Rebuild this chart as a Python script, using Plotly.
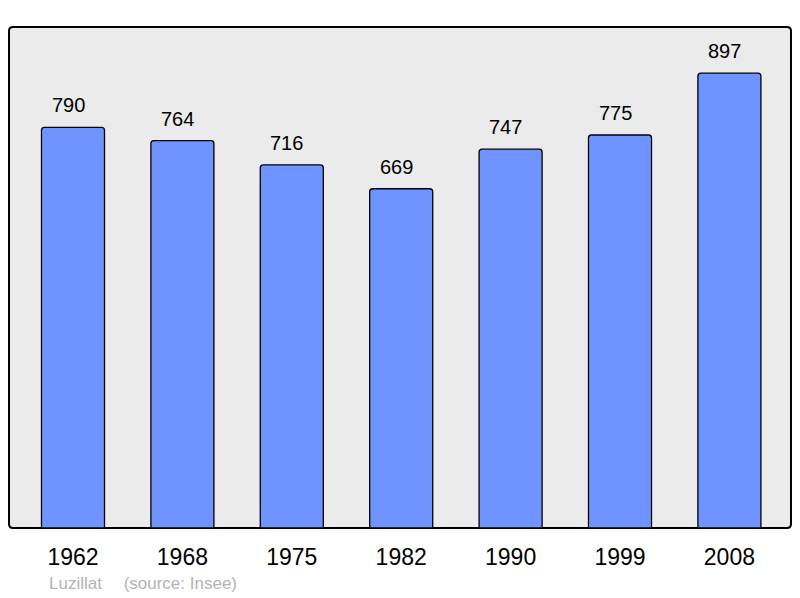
import plotly.graph_objects as go

years = ["1962", "1968", "1975", "1982", "1990", "1999", "2008"]
population = [790, 764, 716, 669, 747, 775, 897]
source_text = "Luzillat\u2003 (source: Insee)"

# page body has an 8px margin, so the figure is offset by 8px
W, H = 792, 590
L, T = 1, 19
pw, ph = 782, 501
R, B = W - L - pw, H - T - ph

fig = go.Figure()
fig.add_trace(go.Bar(
    x=list(range(len(years))), y=population, width=0.576,
    marker=dict(color="#7094ff", line=dict(color="#000000", width=1.3), cornerradius=3),
    hoverinfo="skip",
))

for i, v in enumerate(population):
    fig.add_annotation(x=i, y=v, text=str(v), showarrow=False, yanchor="bottom",
                       yshift=9, xshift=-5,
                       font=dict(family="Liberation Sans, Arial", size=20, color="#000"))

# frame with rounded corners (paper coords)
r = 4
rx, ry = r / pw, r / ph
path = (f"M {rx},0 L {1-rx},0 Q 1,0 1,{ry} L 1,{1-ry} Q 1,1 {1-rx},1 "
        f"L {rx},1 Q 0,1 0,{1-ry} L 0,{ry} Q 0,0 {rx},0 Z")
fig.add_shape(type="path", path=path, xref="paper", yref="paper",
              line=dict(color="#000000", width=2), fillcolor="#ebebeb", layer="below")

fig.add_annotation(xref="paper", yref="paper", x=38 / pw, y=-55 / ph,
                   text=source_text, showarrow=False, xanchor="left", yanchor="middle",
                   font=dict(family="Liberation Sans, Arial", size=17, color="#b3b3b3"))

fig.update_layout(
    width=W, height=H,
    margin=dict(l=L, r=R, t=T, b=B, pad=0),
    paper_bgcolor="#ffffff", plot_bgcolor="rgba(0,0,0,0)",
    showlegend=False,
    xaxis=dict(range=[-0.585, 6.563], tickmode="array", tickvals=list(range(len(years))),
               ticktext=years, showgrid=False, zeroline=False, showline=False,
               ticks="outside", ticklen=8, tickcolor="rgba(0,0,0,0)",
               tickfont=dict(family="Liberation Sans, Arial", size=23, color="#000")),
    yaxis=dict(range=[0, 988], visible=False, showgrid=False),
)

fig.write_html("out.html")
